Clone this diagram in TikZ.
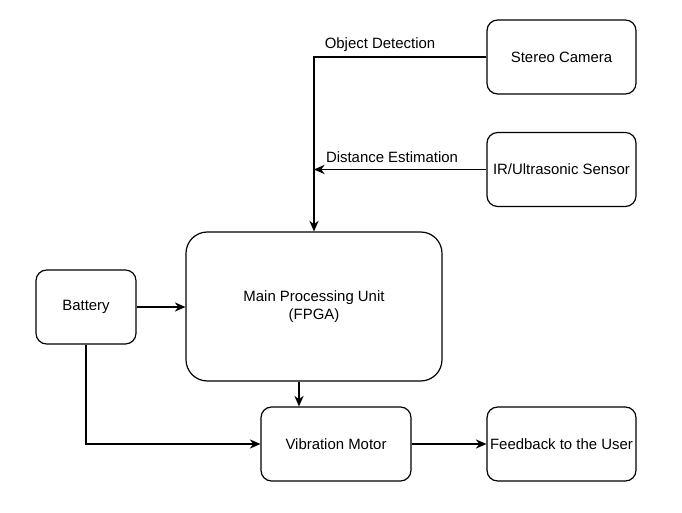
\documentclass[tikz,border=0pt]{standalone}
\usepackage{fontspec}
\setmainfont{Liberation Sans}
\usetikzlibrary{arrows.meta}

\begin{document}
\begin{tikzpicture}[x=0.75pt, y=-0.75pt, >={Stealth[length=8pt,width=7pt]},
    line width=0.9pt, font=\fontsize{11.2pt}{13.5pt}\selectfont,
    block/.style={draw, rounded corners=8pt, align=center, inner sep=1pt,
      minimum width=111.75pt, minimum height=55.5pt},
    edgelabel/.style={inner sep=1pt}]
  \useasboundingbox (0,0) rectangle (682,513);
  % sensors on the right
  \node[block] (cam) at (561.5,57) {Stereo Camera};
  \node[block] (ir) at (561.5,169.5) {IR/Ultrasonic Sensor};
  % processing
  \node[block, rounded corners=16pt, minimum width=192pt, minimum height=111.75pt]
    (mpu) at (314,306.5) {Main Processing Unit\\(FPGA)};
  \node[block, minimum width=75pt] (bat) at (86,307) {Battery};
  % output side
  \node[block, minimum width=112.5pt] (vib) at (336,444) {Vibration Motor};
  \node[block] (fb) at (561.5,444) {Feedback to the User};
  \coordinate (mv) at (299,0);

  \draw[->] (cam.west) -| (mpu.north);
  \node[edgelabel] (odlabel) at (380,45) {Object Detection};
  \draw[->] (ir.west) -- (ir.west -| mpu.north);
  \node[edgelabel] (delabel) at (392,157) {Distance Estimation};
  \draw[->] (bat.east) -- (bat.east -| mpu.west);
  \draw[->] (bat.south) |- (vib.west);
  \draw[->] (mpu.south -| mv) -- (vib.north -| mv);
  \draw[->] (vib.east) -- (fb.west);
\end{tikzpicture}
\end{document}
